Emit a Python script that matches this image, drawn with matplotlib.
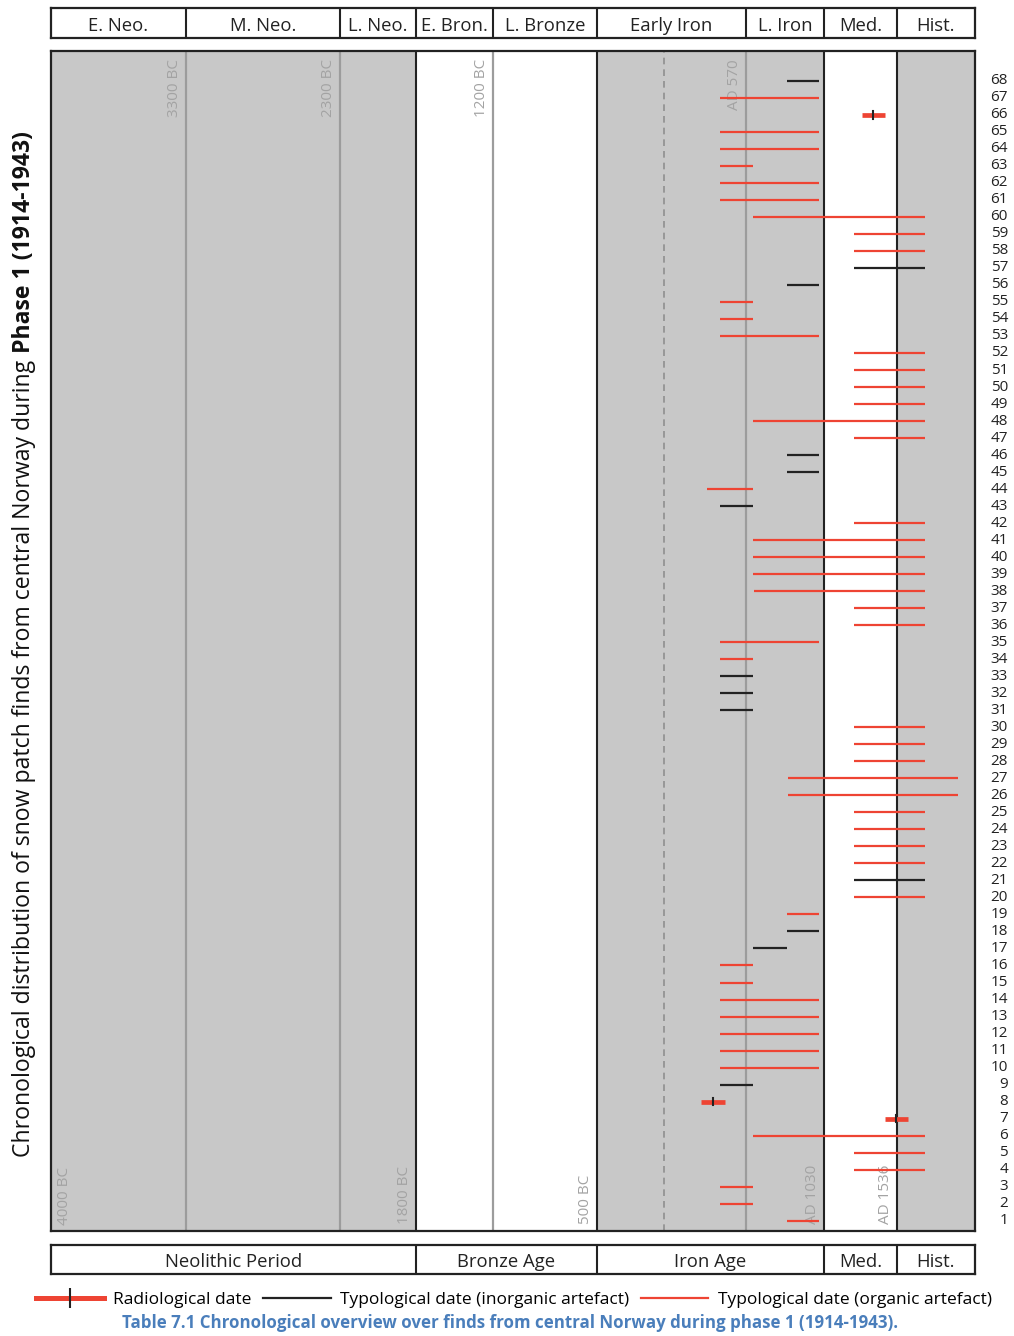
import numpy as np
import matplotlib
matplotlib.use("Agg")
import matplotlib.pyplot as plt
from matplotlib.lines import Line2D
from matplotlib.legend_handler import HandlerTuple
import matplotlib.transforms as mtransforms

plt.rcParams['font.family'] = ['Open Sans', 'DejaVu Sans']

# ---------------- data ----------------
# period boundaries (years, negative = BC)
period_names = ["E. Neo.", "M. Neo.", "L. Neo.", "E. Bron.", "L. Bronze",
                "Early Iron", "L. Iron", "Med.", "Hist."]
period_bounds = [-4000, -3300, -2300, -1800, -1200, -500, 570, 1030, 1536, 2000]
age_names = ["Neolithic Period", "Bronze Age", "Iron Age", "Med.", "Hist."]
age_bounds = [-4000, -1800, -500, 1030, 1536, 2000]

find_ids = list(range(1, 69))
find_start = [810, 380, 380, 1240, 1240, 610, 1450, 250, 380, 380,
              380, 380, 380, 380, 380, 380, 610, 810, 810, 1240,
              1240, 1240, 1240, 1240, 1240, 815, 815, 1240, 1240, 1240,
              380, 380, 380, 380, 380, 1240, 1240, 615, 610, 610,
              610, 1240, 380, 290, 810, 810, 1240, 610, 1240, 1240,
              1240, 1240, 380, 380, 380, 810, 1240, 1240, 1240, 610,
              380, 380, 380, 380, 380, 1290, 380, 810]
find_end = [1000, 610, 610, 1700, 1700, 1700, 1600, 420, 610, 1000,
            1000, 1000, 1000, 1000, 610, 610, 810, 1000, 1000, 1700,
            1700, 1700, 1700, 1700, 1700, 1900, 1900, 1700, 1700, 1700,
            610, 610, 610, 610, 1000, 1700, 1700, 1700, 1700, 1700,
            1700, 1700, 610, 610, 1000, 1000, 1700, 1700, 1700, 1700,
            1700, 1700, 1000, 610, 610, 1000, 1700, 1700, 1700, 1700,
            1000, 1000, 610, 1000, 1000, 1450, 1000, 1000]
# 'org' = typological (organic), 'inorg' = typological (inorganic), 'radio' = radiological
find_kind = ['org', 'org', 'org', 'org', 'org', 'org', 'radio', 'radio', 'inorg', 'org',
             'org', 'org', 'org', 'org', 'org', 'org', 'inorg', 'inorg', 'org', 'org',
             'inorg', 'org', 'org', 'org', 'org', 'org', 'org', 'org', 'org', 'org',
             'inorg', 'inorg', 'inorg', 'org', 'org', 'org', 'org', 'org', 'org', 'org',
             'org', 'org', 'inorg', 'org', 'inorg', 'inorg', 'org', 'org', 'org', 'org',
             'org', 'org', 'org', 'org', 'org', 'inorg', 'inorg', 'org', 'org', 'org',
             'org', 'org', 'org', 'org', 'org', 'radio', 'org', 'inorg']
# central value of radiological dates
radio_ids = [7, 8, 66]
radio_mid = [1530, 330, 1370]

gray_lines = [-3300, -2300, -1200, 570]
gray_labels = ["3300 BC", "2300 BC", "1200 BC", "AD 570"]
dark_lines = [-1800, -500, 1030, 1536]
dark_labels = ["1800 BC", "500 BC", "AD 1030", "AD 1536"]
dashed_line = -20

# ---------------- styling / scale ----------------
W, H = 1014, 1336
RED = '#ee4433'
BLACK = '#222222'
GRAYBG = '#c8c8c8'
GRAYLINE = '#9c9c9c'
LBLGRAY = '#a3a3a3'

# visual width of each period on the time axis (non-linear chart scale)
scale_pos = np.array([0, 135, 289, 365, 442, 546, 695, 773, 846, 924], float)
scale_years = np.array(period_bounds, float)


def fwd(v):
    return np.interp(v, scale_years, scale_pos)


def inv(p):
    return np.interp(p, scale_pos, scale_years)


def fx(px):
    return px / W


def fy(py):
    return 1 - py / H


fig = plt.figure(figsize=(W / 100, H / 100), dpi=100)

# ---------------- main axes ----------------
ax = fig.add_axes([fx(51), fy(1231), fx(975) - fx(51), fy(51) - fy(1231)])
ax.set_xscale('function', functions=(fwd, inv))
ax.set_xlim(period_bounds[0], period_bounds[-1])
ax.set_ylim(0.395, 69.75)

# backgrounds: gray for Neolithic, Iron Age, Hist.; white otherwise
for i, (a, b) in enumerate(zip(age_bounds[:-1], age_bounds[1:])):
    if i in (0, 2, 4):
        ax.axvspan(a, b, color=GRAYBG, lw=0, zorder=0)

for xv in gray_lines:
    ax.axvline(xv, color=GRAYLINE, lw=1.6, zorder=1)
for xv in dark_lines:
    ax.axvline(xv, color=BLACK, lw=1.5, zorder=1)
ax.axvline(dashed_line, color='#8f8f8f', lw=1.2, ls=(0, (4, 3)), zorder=1)

# rotated period labels
for xv, lab in zip(gray_lines, gray_labels):
    ax.annotate(lab, xy=(xv, 1), xycoords=('data', 'axes fraction'),
                xytext=(-3, -6), textcoords='offset points', rotation=90,
                ha='right', va='top', color=LBLGRAY, fontsize=11, zorder=2)
ax.annotate("4000 BC", xy=(period_bounds[0], 0), xycoords=('data', 'axes fraction'),
            xytext=(4, 4), textcoords='offset points', rotation=90,
            ha='left', va='bottom', color=LBLGRAY, fontsize=11, zorder=2)
for xv, lab in zip(dark_lines, dark_labels):
    ax.annotate(lab, xy=(xv, 0), xycoords=('data', 'axes fraction'),
                xytext=(-3, 5), textcoords='offset points', rotation=90,
                ha='right', va='bottom', color=LBLGRAY, fontsize=11, zorder=2)

# finds
radio_lookup = dict(zip(radio_ids, radio_mid))
for fid, s, e, k in zip(find_ids, find_start, find_end, find_kind):
    if k == 'org':
        ax.plot([s, e], [fid, fid], color=RED, lw=1.6, solid_capstyle='butt', zorder=3)
    elif k == 'inorg':
        ax.plot([s, e], [fid, fid], color=BLACK, lw=1.6, solid_capstyle='butt', zorder=3)
    else:
        ax.plot([s, e], [fid, fid], color=RED, lw=3.4, solid_capstyle='butt', zorder=3)
        m = radio_lookup[fid]
        ax.plot([m, m], [fid - 0.22, fid + 0.22], color=BLACK, lw=1.5, zorder=4)

# row numbers on the right
tr = mtransforms.blended_transform_factory(ax.transAxes, ax.transData)
for fid in find_ids:
    ax.text(1.0357, fid, str(fid), transform=tr, ha='right', va='center',
            fontsize=11, color='#222222')

ax.set_xticks([])
ax.set_yticks([])
for sp in ax.spines.values():
    sp.set_linewidth(1.6)
    sp.set_color(BLACK)
    sp.set_zorder(5)


def band_axes(top, bottom, names, bounds, fs):
    b = fig.add_axes([fx(51), fy(bottom), fx(975) - fx(51), fy(top) - fy(bottom)])
    b.set_xscale('function', functions=(fwd, inv))
    b.set_xlim(period_bounds[0], period_bounds[-1])
    b.set_ylim(0, 1)
    for xv in bounds[1:-1]:
        b.axvline(xv, color=BLACK, lw=1.5)
    for name, a, c in zip(names, bounds[:-1], bounds[1:]):
        mid = inv((fwd(a) + fwd(c)) / 2)
        b.text(mid, 0.47, name, ha='center', va='center_baseline', fontsize=fs,
               color='#222222')
    b.set_xticks([])
    b.set_yticks([])
    for sp in b.spines.values():
        sp.set_linewidth(1.6)
        sp.set_color(BLACK)
    return b


band_axes(8, 38, period_names, period_bounds, 13.3)
band_axes(1245, 1274, age_names, age_bounds, 13.3)

# ---------------- left title (normal + bold) ----------------
s1 = "Chronological distribution of snow patch finds from central Norway during "
s2 = "Phase 1 (1914-1943)"
t1 = fig.text(fx(30), fy(1157), s1, rotation=90, rotation_mode='anchor',
              ha='left', va='baseline', fontsize=16.6, color='#111111')
fig.canvas.draw()
bb = t1.get_window_extent(fig.canvas.get_renderer())
t2 = fig.text(fx(30), bb.y1 / fig.bbox.height + 0.001, s2, rotation=90,
              rotation_mode='anchor', ha='left', va='baseline', fontsize=16.6,
              fontweight='bold', color='#111111')

# ---------------- legend ----------------
h_radio = (Line2D([], [], color=RED, lw=3.6),
           Line2D([], [], color=BLACK, marker='|', ls='none', markersize=14, mew=1.5))
h_inorg = Line2D([], [], color=BLACK, lw=1.6)
h_org = Line2D([], [], color=RED, lw=1.6)
fig.legend([h_radio, h_inorg, h_org],
           ["Radiological date", "Typological date (inorganic artefact)",
            "Typological date (organic artefact)"],
           handler_map={tuple: HandlerTuple(ndivide=1)},
           loc='center', bbox_to_anchor=(fx(514), fy(1300)), ncol=3, frameon=False,
           fontsize=12.5, handlelength=3.9, handletextpad=0.55, columnspacing=0.65,
           borderpad=0, borderaxespad=0)

# ---------------- caption (fitted to the reference width) ----------------
cap = fig.text(fx(510), fy(1323),
               "Table 7.1 Chronological overview over finds from central Norway during phase 1 (1914-1943).",
               ha='center', va='center', fontsize=12, fontweight='bold', color='#4a7ebb')
fig.canvas.draw()
cw = cap.get_window_extent(fig.canvas.get_renderer()).width
cap.set_fontsize(12 * 773.0 / cw)

fig.savefig("out.png", dpi=100)
